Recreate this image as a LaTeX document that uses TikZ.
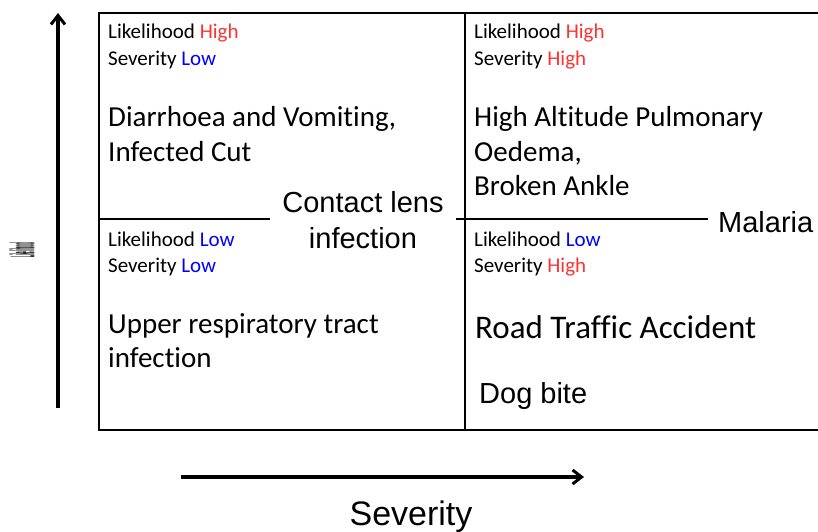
\documentclass[tikz,border=0pt]{standalone}
\usepackage{fontspec}
\setmainfont{Liberation Sans}
\newfontfamily\calfont[Ligatures=NoCommon]{Carlito}
\definecolor{hired}{RGB}{255,50,50}
\definecolor{loblue}{RGB}{0,0,255}
\usetikzlibrary{arrows.meta}
\begin{document}
\begin{tikzpicture}[x=1pt,y=-1pt,
  small/.style={anchor=base west,inner sep=0pt,font=\calfont\fontsize{21}{25}\selectfont},
  bigc/.style={anchor=base west,inner sep=0pt,font=\calfont\fontsize{29}{35}\selectfont},
  arial/.style={inner sep=0pt,font=\fontsize{29}{35}\selectfont},
  grid/.style={line width=2pt},
  axis/.style={line width=4pt,-{Straight Barb[length=9pt,width=14pt,line width=3pt]}}]
\useasboundingbox (0,0) rectangle (818,531);
% grid
\draw[grid] (818,13) -- (99,13) -- (99,430) -- (818,430);
\draw[grid] (465,13) -- (465,430);
\coordinate (ml) at (99,219);
\coordinate (mla) at (270,219);
\coordinate (mrb) at (456,219);
\coordinate (mrr) at (708,219);
\draw[grid] (ml) -- (mla);
\draw[grid] (mrb) -- (mrr);
% axes
\coordinate (vs) at (58,408);
\coordinate (ve) at (58,13);
\coordinate (hs) at (181,477);
\coordinate (he) at (584,477);
\draw[axis] (vs) -- (ve);
\draw[axis] (hs) -- (he);
\node[arial,font=\fontsize{34}{40}\selectfont,anchor=base] (sev) at (411,525) {Severity};
\node[inner sep=0pt] (lik) at (22,250) {\rotatebox{90}{\resizebox{15pt}{25pt}{\bfseries Likelihood}}};
% top left
\node[small] (tl1) at (108,38) {Likelihood \textcolor{hired}{High}};
\node[small] (tl2) at (108,65) {Severity \textcolor{loblue}{Low}};
\node[bigc] (tl3) at (108,126) {Diarrhoea and Vomiting,};
\node[bigc] (tl4) at (108,161) {Infected Cut};
% top right
\node[small] (tr1) at (474,38) {Likelihood \textcolor{hired}{High}};
\node[small] (tr2) at (474,65) {Severity \textcolor{hired}{High}};
\node[bigc] (tr3) at (474,126) {High Altitude Pulmonary};
\node[bigc] (tr4) at (474,161) {Oedema,};
\node[bigc] (tr5) at (474,195) {Broken Ankle};
% bottom left
\node[small] (bl1) at (108,246) {Likelihood \textcolor{loblue}{Low}};
\node[small] (bl2) at (108,272) {Severity \textcolor{loblue}{Low}};
\node[bigc] (bl3) at (108,333) {Upper respiratory tract};
\node[bigc] (bl4) at (108,367) {infection};
% bottom right
\node[small] (br1) at (474,246) {Likelihood \textcolor{loblue}{Low}};
\node[small] (br2) at (474,272) {Severity \textcolor{hired}{High}};
\node[bigc,font=\calfont\fontsize{33}{40}\selectfont] (br3) at (475,338) {Road Traffic Accident};
\node[arial,anchor=base west] (br4) at (479,403) {Dog bite};
% floating labels
\node[arial,anchor=base] (cl1) at (363,212) {Contact lens};
\node[arial,anchor=base] (cl2) at (363,248) {infection};
\node[arial,anchor=base west] (mal) at (718,232) {Malaria};
\end{tikzpicture}
\end{document}
